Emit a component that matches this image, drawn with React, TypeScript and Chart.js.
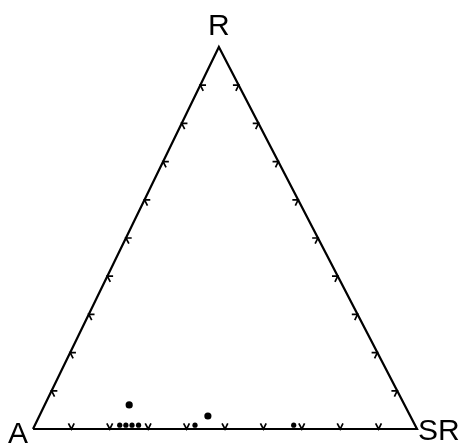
import React, { useEffect, useRef } from "react";
import { Chart, registerables } from "chart.js";

Chart.register(...registerables);

// Ternary diagram: components A (left), R (top), SR (right), in percent.
const VERTEX_LABELS = ["A", "R", "SR"];
const TICK_VALUES = [10, 20, 30, 40, 50, 60, 70, 80, 90];

// Samples lying on the A–SR edge (R ≈ 1 %)
const EDGE_SR = [22.1, 23.7, 25.3, 27.0, 41.7, 67.4];
const EDGE_R = [1, 1, 1, 1, 1, 1];

// Samples with a measurable R content
const INNER_SR = [22.0, 43.9];
const INNER_R = [6.3, 3.4];

// horizontal position of the R apex relative to the A–SR base
const APEX_X = 0.484;
const TICK_LEN = 1.5;

const toXY = (sr: number, r: number) => ({
  x: sr / 100 + (APEX_X * r) / 100,
  y: r / 100,
});

export default function App() {
  const canvasRef = useRef<HTMLCanvasElement | null>(null);

  useEffect(() => {
    const canvas = canvasRef.current;
    if (!canvas) return;

    const lineStyle = {
      showLine: true,
      borderColor: "#000",
      pointRadius: 0,
      fill: false,
      clip: false as const,
    };

    const tickSets: any[] = [];
    TICK_VALUES.forEach((k) => {
      // base A–SR: arms parallel to the two slanted edges
      tickSets.push({
        ...lineStyle,
        borderWidth: 1.7,
        data: [toXY(k, TICK_LEN), toXY(k, 0), toXY(k - TICK_LEN, TICK_LEN)],
      });
      // left edge A–R
      tickSets.push({
        ...lineStyle,
        borderWidth: 1.7,
        data: [toXY(TICK_LEN, k), toXY(0, k), toXY(TICK_LEN, k - TICK_LEN)],
      });
      // right edge R–SR
      tickSets.push({
        ...lineStyle,
        borderWidth: 1.7,
        data: [
          toXY(100 - k - TICK_LEN, k),
          toXY(100 - k, k),
          toXY(100 - k, k - TICK_LEN),
        ],
      });
    });

    const vertices = [toXY(0, 0), toXY(0, 100), toXY(100, 0)];

    const labelPlugin = {
      id: "vertexLabels",
      afterDraw(chart: any) {
        const { ctx, scales } = chart;
        const px = (p: { x: number; y: number }) => ({
          x: scales.x.getPixelForValue(p.x),
          y: scales.y.getPixelForValue(p.y),
        });
        ctx.save();
        ctx.fillStyle = "#000";
        ctx.font = "30px 'Liberation Sans', Arial, sans-serif";
        ctx.textBaseline = "alphabetic";
        const a = px(vertices[0]);
        ctx.textAlign = "right";
        ctx.fillText(VERTEX_LABELS[0], a.x - 5, a.y + 14);
        const r = px(vertices[1]);
        ctx.textAlign = "center";
        ctx.fillText(VERTEX_LABELS[1], r.x, r.y - 12);
        const s = px(vertices[2]);
        ctx.textAlign = "left";
        ctx.fillText(VERTEX_LABELS[2], s.x + 1, s.y + 11);
        ctx.restore();
      },
    };

    const chart = new Chart(canvas, {
      type: "scatter",
      data: {
        datasets: [
          {
            ...lineStyle,
            borderWidth: 2.2,
            data: [vertices[0], vertices[2], vertices[1], vertices[0]],
          },
          ...tickSets,
          {
            showLine: false,
            pointRadius: 2.6,
            pointBackgroundColor: "#000",
            pointBorderWidth: 0,
            clip: false,
            data: EDGE_SR.map((sr, i) => toXY(sr, EDGE_R[i])),
          },
          {
            showLine: false,
            pointRadius: 3.6,
            pointBackgroundColor: "#000",
            pointBorderWidth: 0,
            clip: false,
            data: INNER_SR.map((sr, i) => toXY(sr, INNER_R[i])),
          },
        ],
      },
      options: {
        animation: false,
        responsive: false,
        events: [],
        layout: { padding: 0, autoPadding: false },
        plugins: {
          legend: { display: false },
          tooltip: { enabled: false },
        },
        scales: {
          x: { type: "linear", display: false, min: -33 / 384, max: 435 / 384 },
          y: { type: "linear", display: false, min: -15 / 382, max: 429 / 382 },
        },
      },
      plugins: [labelPlugin],
    });

    return () => chart.destroy();
  }, []);

  return (
    <div style={{ position: "fixed", left: 0, top: 0, width: 468, height: 444, background: "#fff" }}>
      <canvas ref={canvasRef} width={468} height={444} />
    </div>
  );
}
